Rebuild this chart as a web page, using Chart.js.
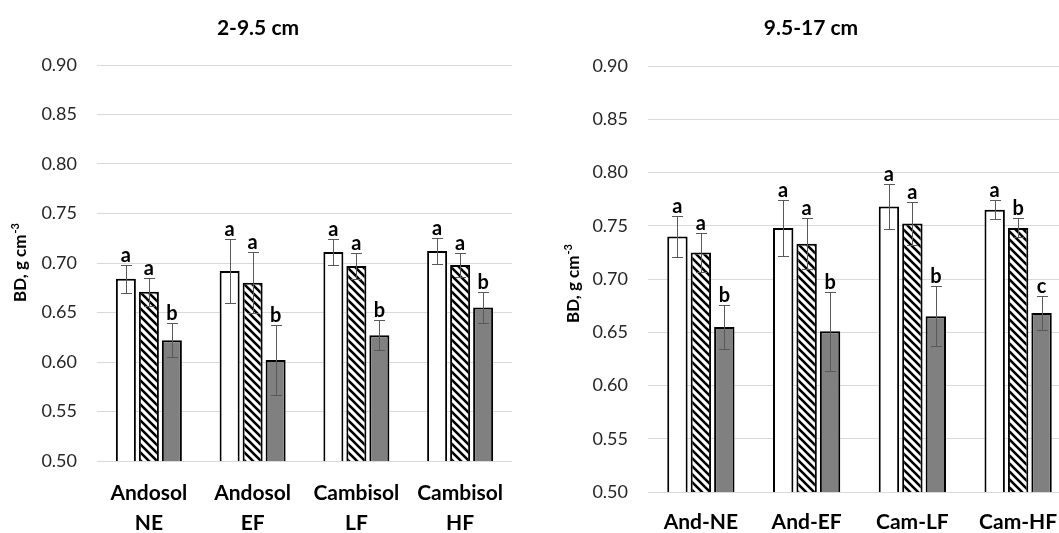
<!DOCTYPE html>
<html>
<head>
<meta charset="utf-8">
<script src="https://cdn.jsdelivr.net/npm/chart.js@4.4.1/dist/chart.umd.min.js"></script>
<style>
  html, body { margin: 0; padding: 0; background: #fff; overflow: hidden; }
  #wrap { position: relative; width: 1059px; height: 533px; overflow: hidden; background: #fff; }
  #chart-top { position: absolute; left: 0; top: 0; }
  #chart-sub { position: absolute; left: 530px; top: 0; }
</style>
</head>
<body>
<div id="wrap">
  <canvas id="chart-top" width="530" height="533"></canvas>
  <canvas id="chart-sub" width="559" height="564"></canvas>
</div>
<script>
// y axis ticks (same on both panels)
const yTickValues = [0.50, 0.55, 0.60, 0.65, 0.70, 0.75, 0.80, 0.85, 0.90];

// 2-9.5 cm panel
const topTitle = '2-9.5 cm';
const topLabels = [['Andosol', 'NE'], ['Andosol', 'EF'], ['Cambisol', 'LF'], ['Cambisol', 'HF']];
const topWhite = [0.684, 0.692, 0.711, 0.712];
const topHatched = [0.671, 0.680, 0.697, 0.698];
const topGray = [0.622, 0.602, 0.627, 0.655];
const topWhiteErr = [0.014, 0.032, 0.013, 0.013];
const topHatchedErr = [0.014, 0.031, 0.013, 0.012];
const topGrayErr = [0.017, 0.035, 0.015, 0.016];
const topWhiteLetters = ['a', 'a', 'a', 'a'];
const topHatchedLetters = ['a', 'a', 'a', 'a'];
const topGrayLetters = ['b', 'b', 'b', 'b'];

// 9.5-17 cm panel
const subTitle = '9.5-17 cm';
const subLabels = ['And-NE', 'And-EF', 'Cam-LF', 'Cam-HF'];
const subWhite = [0.740, 0.748, 0.768, 0.765];
const subHatched = [0.725, 0.733, 0.752, 0.748];
const subGray = [0.655, 0.651, 0.665, 0.668];
const subWhiteErr = [0.019, 0.026, 0.021, 0.009];
const subHatchedErr = [0.018, 0.024, 0.020, 0.009];
const subGrayErr = [0.021, 0.037, 0.028, 0.016];
const subWhiteLetters = ['a', 'a', 'a', 'a'];
const subHatchedLetters = ['a', 'a', 'a', 'b'];
const subGrayLetters = ['b', 'b', 'b', 'c'];

const FONT = 'Lato, "Open Sans", sans-serif';

function makeHatch() {
  const c = document.createElement('canvas');
  c.width = 8;
  c.height = 8;
  const g = c.getContext('2d');
  g.fillStyle = '#fff';
  g.fillRect(0, 0, 8, 8);
  g.strokeStyle = '#000';
  g.lineWidth = 2.6;
  g.beginPath();
  [-8, 0, 8].forEach(o => {
    g.moveTo(o - 4, -4);
    g.lineTo(o + 12, 12);
  });
  g.stroke();
  return g.createPattern(c, 'repeat');
}

// error bars, significance letters, panel title and y axis title
const panelDecor = {
  id: 'panelDecor',
  afterDatasetsDraw(chart, args, opts) {
    const ctx = chart.ctx;
    const y = chart.scales.y;
    ctx.save();
    chart.data.datasets.forEach((ds, i) => {
      const meta = chart.getDatasetMeta(i);
      meta.data.forEach((bar, j) => {
        const v = ds.data[j];
        const e = ds.errors[j];
        const yTop = Math.round(y.getPixelForValue(v + e)) + 0.5;
        const yBot = Math.round(y.getPixelForValue(v - e)) + 0.5;
        const x = Math.round(bar.x) + 0.5;
        ctx.strokeStyle = '#595959';
        ctx.lineWidth = 1;
        ctx.beginPath();
        ctx.moveTo(x, yTop);
        ctx.lineTo(x, yBot);
        ctx.moveTo(x - 5.5, yTop);
        ctx.lineTo(x + 5.5, yTop);
        ctx.moveTo(x - 5.5, yBot);
        ctx.lineTo(x + 5.5, yBot);
        ctx.stroke();

        ctx.fillStyle = '#000';
        ctx.font = 'bold 20px ' + FONT;
        ctx.textAlign = 'center';
        ctx.textBaseline = 'alphabetic';
        ctx.fillText(ds.letters[j], bar.x, yTop - 4);
      });
    });
    ctx.restore();
  },
  afterDraw(chart, args, opts) {
    const ctx = chart.ctx;
    const area = chart.chartArea;
    ctx.save();
    ctx.fillStyle = '#000';
    ctx.font = 'bold 21px ' + FONT;
    ctx.textAlign = 'center';
    ctx.textBaseline = 'middle';
    ctx.fillText(opts.title, opts.titleX, opts.titleY);

    // rotated "BD, g cm-3" with a raised exponent
    const main = 'BD, g cm';
    const sup = '-3';
    ctx.translate(opts.axisX, (area.top + area.bottom) / 2 + (opts.axisShift || 0));
    ctx.rotate(-Math.PI / 2);
    ctx.font = 'bold 17px ' + FONT;
    const w1 = ctx.measureText(main).width;
    ctx.font = 'bold 11px ' + FONT;
    const w2 = ctx.measureText(sup).width;
    const start = -(w1 + w2) / 2;
    ctx.textAlign = 'left';
    ctx.textBaseline = 'alphabetic';
    ctx.font = 'bold 17px ' + FONT;
    ctx.fillText(main, start, 6);
    ctx.font = 'bold 11px ' + FONT;
    ctx.fillText(sup, start + w1 + 1, -1);
    ctx.restore();
  }
};

function buildChart(canvasId, cfg) {
  const hatch = makeHatch();
  const ctx = document.getElementById(canvasId).getContext('2d');
  return new Chart(ctx, {
    type: 'bar',
    data: {
      labels: cfg.labels,
      datasets: [
        {
          data: cfg.white,
          errors: cfg.whiteErr,
          letters: cfg.whiteLetters,
          backgroundColor: '#ffffff',
          borderColor: '#000000',
          borderWidth: 2
        },
        {
          data: cfg.hatched,
          errors: cfg.hatchedErr,
          letters: cfg.hatchedLetters,
          backgroundColor: hatch,
          borderColor: '#000000',
          borderWidth: 2
        },
        {
          data: cfg.gray,
          errors: cfg.grayErr,
          letters: cfg.grayLetters,
          backgroundColor: '#808080',
          borderColor: '#000000',
          borderWidth: 2
        }
      ]
    },
    options: {
      responsive: false,
      animation: false,
      devicePixelRatio: 1,
      categoryPercentage: 0.665,
      barPercentage: 0.87,
      layout: {
        padding: { left: 0, right: 18, top: cfg.top, bottom: 0 }
      },
      scales: {
        x: {
          grid: { display: false, drawTicks: false },
          border: { display: false },
          afterFit: (scale) => { scale.height = cfg.xHeight; },
          ticks: {
            color: '#000',
            padding: cfg.xPad,
            maxRotation: 0,
            autoSkip: false,
            font: { family: FONT, size: 21, weight: 'bold', lineHeight: 1.45 }
          }
        },
        y: {
          min: 0.5,
          max: 0.9,
          afterBuildTicks: (scale) => {
            scale.ticks = yTickValues.map(v => ({ value: v }));
          },
          afterFit: (scale) => { scale.width = cfg.yWidth; },
          grid: { color: '#d9d9d9', lineWidth: 1, drawTicks: false },
          border: { display: false },
          ticks: {
            color: '#262626',
            padding: cfg.yPad,
            font: { family: FONT, size: 18 },
            callback: (v) => Number(v).toFixed(2)
          }
        }
      },
      plugins: {
        legend: { display: false },
        tooltip: { enabled: false },
        panelDecor: {
          title: cfg.title,
          titleX: cfg.titleX,
          titleY: 28,
          axisX: cfg.axisX,
          axisShift: cfg.axisShift
        }
      }
    },
    plugins: [panelDecor]
  });
}

buildChart('chart-top', {
  title: topTitle,
  titleX: 258,
  labels: topLabels,
  white: topWhite, hatched: topHatched, gray: topGray,
  whiteErr: topWhiteErr, hatchedErr: topHatchedErr, grayErr: topGrayErr,
  whiteLetters: topWhiteLetters, hatchedLetters: topHatchedLetters, grayLetters: topGrayLetters,
  top: 65, xHeight: 72, xPad: 17, yWidth: 97, yPad: 20,
  axisX: 20, axisShift: 0
});

buildChart('chart-sub', {
  title: subTitle,
  titleX: 281,
  labels: subLabels,
  white: subWhite, hatched: subHatched, gray: subGray,
  whiteErr: subWhiteErr, hatchedErr: subHatchedErr, grayErr: subGrayErr,
  whiteLetters: subWhiteLetters, hatchedLetters: subHatchedLetters, grayLetters: subGrayLetters,
  top: 66, xHeight: 72, xPad: 15, yWidth: 118, yPad: 20,
  axisX: 43, axisShift: 5
});
</script>
</body>
</html>
